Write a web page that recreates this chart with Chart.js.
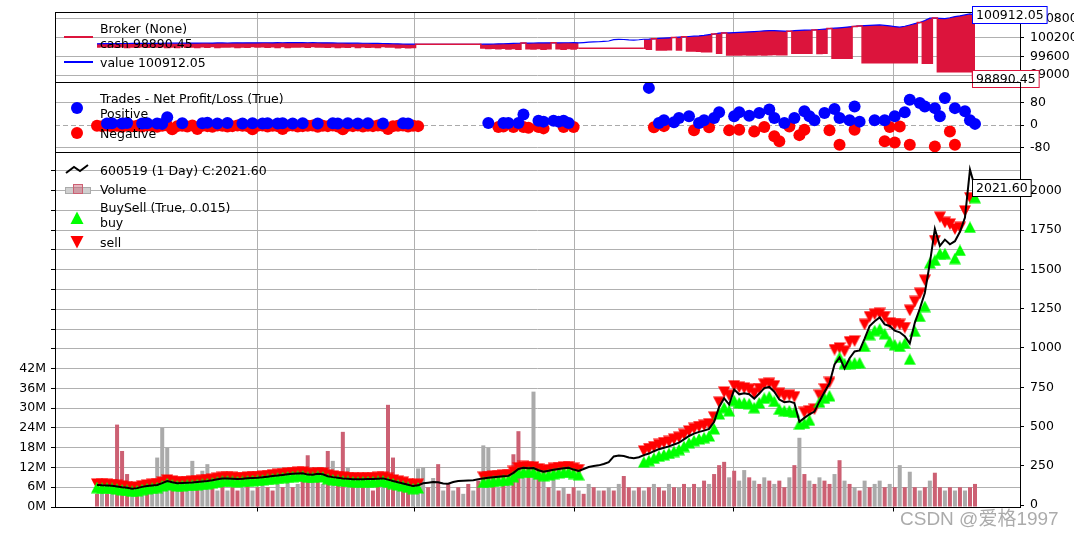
<!DOCTYPE html>
<html>
<head>
<meta charset="utf-8">
<title>600519 backtest</title>
<script src="https://cdn.jsdelivr.net/npm/chart.js@4.4.1/dist/chart.umd.min.js"></script>
<style>
  html, body { margin: 0; padding: 0; background: #fff; }
  #fig { position: relative; width: 1074px; height: 534px; overflow: hidden; }
  #fig canvas { position: absolute; left: 0; top: 0; }
  .lg { position: absolute; left: 100px; font: 12.5px/15px 'DejaVu Sans', sans-serif; color: #000; white-space: nowrap; }
  .ico { position: absolute; }
  #mark { position: absolute; left: 900px; top: 503px; font: 19px 'Liberation Sans', 'Noto Sans CJK SC', sans-serif; color: rgba(150,150,150,0.8); white-space: nowrap; }
</style>
</head>
<body>
<div id="fig">
  <canvas id="broker" width="1074" height="534"></canvas>
  <canvas id="trades" width="1074" height="534"></canvas>
  <canvas id="price" width="1074" height="534"></canvas>

  <div class="ico" style="left:64px;top:36px;width:29px;height:2px;background:#dc143c"></div>
  <div class="lg" style="top:20.5px">Broker (None)</div>
  <div class="lg" style="top:35.5px">cash 98890.45</div>
  <div class="ico" style="left:64px;top:61px;width:29px;height:2px;background:#0000ff"></div>
  <div class="lg" style="top:54.5px">value 100912.05</div>

  <div class="lg" style="top:91px">Trades - Net Profit/Loss (True)</div>
  <div class="ico" style="left:71px;top:102px;width:12px;height:12px;border-radius:50%;background:#0000ff"></div>
  <div class="lg" style="top:106px">Positive</div>
  <div class="ico" style="left:71px;top:127px;width:12px;height:12px;border-radius:50%;background:#ff0000"></div>
  <div class="lg" style="top:125.5px">Negative</div>

  <svg class="ico" style="left:64px;top:162px" width="26" height="14"><polyline points="2,11 10,5 16,9 24,3" fill="none" stroke="#000" stroke-width="2"/></svg>
  <div class="lg" style="top:162.5px">600519 (1 Day) C:2021.60</div>
  <svg class="ico" style="left:64px;top:183px" width="28" height="12"><rect x="1.5" y="4.5" width="25" height="6" fill="#d0d0d0" stroke="#aaaaaa"/><rect x="9.5" y="1.5" width="9" height="9" fill="rgba(204,96,115,0.45)" stroke="#cc6073"/></svg>
  <div class="lg" style="top:181.5px">Volume</div>
  <div class="lg" style="top:200px">BuySell (True, 0.015)</div>
  <svg class="ico" style="left:70px;top:211px" width="14" height="14"><polygon points="7,0.5 13.5,13 0.5,13" fill="#00ff00"/></svg>
  <div class="lg" style="top:215px">buy</div>
  <svg class="ico" style="left:70px;top:235px" width="14" height="14"><polygon points="0.5,1 13.5,1 7,13.5" fill="#ff0000"/></svg>
  <div class="lg" style="top:235px">sell</div>

  <div id="mark">CSDN @爱格1997</div>
</div>

<script>
// daily bars, sampled (one value per bar slot)
const close = [
  128,126,125,123,119,114,110,104,108,116,
  121,125,128,140,153,145,139,141,143,144,
  147,150,153,158,164,169,170,168,166,168,
  171,173,174,177,181,185,188,192,196,199,
  201,202,194,193,200,196,184,178,174,170,
  168,165,164,165,166,166,168,170,162,153,
  145,138,130,121,126,139,143,147,146,138,
  136,147,153,155,157,158,164,170,174,177,
  180,183,186,205,230,237,235,236,222,212,
  218,225,230,234,237,226,218,230,242,249,
  253,262,273,310,315,312,303,298,305,318,
  328,343,356,365,374,386,398,418,440,455,
  466,474,485,530,625,680,640,735,705,712,
  706,678,710,745,752,722,672,655,660,650,
  530,555,578,595,660,720,775,895,940,870,
  935,978,985,1060,1140,1170,1195,1150,1140,1110,
  1100,1075,1030,1160,1250,1350,1540,1758,1650,1690,
  1660,1680,1740,1830,2136,2021.6
];

// volume in millions, and whether the bar closed down (1 = red bar)
const volumeM = [
  4,5,4,6,25,17,10,5,4,5,
  6,5,15,24,18,8,6,5,7,14,
  6,11,13,6,5,7,5,6,5,6,
  7,5,6,8,6,5,7,6,9,6,
  7,9,15.7,8,10,7,17,14,8,22.8,
  12,7,9,6,8,5,7,9,31,15,
  8,6,5,7,11.7,12,6,8.8,13,5,
  7,5,6,4,7,5,8,18.7,18,9,
  6,8,7,16,23,9,12,35,10,8,
  6,9,5,6,4,6,5,4,7,6,
  5,5,6,5,7,9.4,6,5,6,5,
  6,7,6,5,7,6,6,7,6,7,
  6,8,7,10,12.7,13.7,9,11,8,11.2,
  9,8,7,9,8,7,8,6,9,12.7,
  21,10,8,7,9,8,7,10,14.2,8,
  7,6,5,8,6,7,8,6,7,6,
  12.7,6,10.7,6,5,6,8,10.4,6,5,
  6,5,6,5,6,7
];
const volDown = [
  1,0,1,0,1,1,1,0,1,0,
  1,0,0,0,0,1,0,1,0,0,
  1,0,0,1,0,1,0,1,1,0,
  1,0,1,0,1,1,0,1,0,1,
  0,1,1,0,1,0,1,0,1,1,
  0,1,0,1,0,1,1,0,1,1,
  0,1,1,0,0,0,1,0,1,0,
  1,0,1,0,1,0,1,0,0,1,
  0,1,0,1,1,0,1,0,1,0,
  1,0,1,0,1,1,0,1,0,1,
  0,1,0,1,0,1,1,0,1,0,
  1,0,1,1,0,1,0,1,0,1,
  0,1,0,1,1,1,0,1,0,0,
  1,0,1,0,1,0,1,1,0,1,
  0,1,0,1,0,1,1,0,1,0,
  1,0,1,0,1,0,0,1,0,1,
  0,1,0,1,0,1,0,1,1,0,
  1,0,1,0,1,1
];

// BuySell observer marks (null = no order in that slot)
const sellMark = [
  135,134,132,130,127,121,118,112,115,123,
  128,132,136,147,160,153,146,148,150,152,
  154,157,161,165,171,176,177,176,173,175,
  178,181,181,184,188,193,195,199,204,206,
  208,210,202,200,207,204,191,186,181,177,
  175,173,171,172,174,173,176,177,170,160,
  152,146,137,129,133,null,null,null,null,null,
  null,null,null,null,null,null,null,178,182,186,
  188,191,194,214,238,246,243,243,231,220,
  226,234,238,243,245,235,226,null,null,null,
  null,null,null,null,null,null,null,null,null,345,
  360,372,386,398,405,420,432,450,472,488,
  500,508,518,560,655,720,700,760,750,745,
  738,712,742,770,775,760,712,695,700,690,
  null,590,600,611,700,740,781,990,1000,980,
  1040,1045,null,1150,1200,1215,1220,1200,1160,1150,
  1150,1130,1240,1296,1348,1432,null,1684,1833,1800,
  1789,1758,1768,1873,1957,null
];
const buyMark = [
  111,108,108,106,102,97,93,88,91,99,
  104,108,111,122,136,128,122,124,126,127,
  130,133,136,141,147,152,153,151,149,151,
  154,156,157,160,164,168,171,175,179,182,
  184,185,177,176,183,179,167,161,157,153,
  151,148,147,148,149,149,151,153,145,136,
  128,121,113,104,109,null,null,null,null,null,
  null,null,null,null,null,null,null,145,149,152,
  155,158,161,180,205,212,210,210,197,187,
  193,200,205,209,212,201,193,null,null,null,
  null,null,null,null,null,null,null,null,null,273,
  283,298,311,320,329,341,353,373,395,410,
  421,429,440,485,580,620,600,665,650,650,
  645,620,650,680,690,660,610,600,600,590,
  515,520,540,null,655,680,695,null,940,900,
  900,905,905,1010,1085,1110,1120,1090,1040,1020,
  1010,1030,928,1107,1201,1264,1540,1558,1600,1600,
  null,1569,1621,null,1768,1957
];

// broker observer
const cash = [
  99895,99905,99900,99910,99890,99905,99885,99900,99890,99905,
  99890,99910,99895,99905,99885,99900,99885,99910,99890,99900,
  99885,99905,99890,99910,99885,99900,99895,99905,99885,99900,
  99890,99910,99895,99905,99890,99905,99885,99910,99885,99900,
  99895,99905,99890,99910,99895,99900,99890,99905,99885,99900,
  99890,99910,99885,99905,99890,99900,99885,99910,99895,99900,
  99875,99890,99875,99885,99986,99986,99986,99986,99986,99986,
  99986,99986,99986,99986,99986,99986,99986,99870,99850,99860,
  99840,99855,99835,99850,99830,100022,99845,99835,99850,99830,
  99845,100031,99840,99830,99850,99835,99860,99860,99860,99860,
  99860,99860,99860,99860,99860,99860,99860,99860,99860,99860,
  99827,100158,99804,99804,99810,100200,99804,100222,99772,99772,
  99760,99750,99750,100310,99700,100345,99645,99645,99645,99650,
  99645,99640,99650,99645,99650,99660,99655,99650,100400,99700,
  99700,99700,99700,100443,99690,99700,100485,99540,99540,99540,
  99540,100555,100570,99400,99400,99400,99400,99400,99400,99400,
  99400,99400,99400,99400,100676,99380,99380,100820,99112,99112,
  99112,99112,99112,99112,99112,98890.45
];
const value = [
  100000,100004,100006,100005,100008,100010,100009,100012,100014,100012,
  100015,100016,100014,100018,100020,100019,100021,100020,100022,100024,
  100022,100025,100026,100024,100027,100028,100026,100029,100030,100028,
  100030,100032,100031,100033,100034,100032,100035,100034,100036,100035,
  100037,100036,100034,100035,100033,100031,100030,100028,100026,100025,
  100023,100021,100020,100018,100017,100015,100012,100010,100006,100002,
  99998,99994,99990,99987,99986,99986,99986,99986,99986,99986,
  99986,99986,99986,99986,99986,99986,99986,99988,99990,99994,
  99998,100002,100006,100012,100018,100022,100024,100026,100027,100028,
  100030,100031,100032,100033,100034,100035,100030,100040,100052,100060,
  100065,100076,100090,100135,100141,100137,100126,100120,100129,100145,
  100146,100158,100170,100182,100190,100200,100210,100222,100232,100242,
  100251,100268,100290,100310,100337,100345,100350,100357,100365,100372,
  100380,100390,100400,100412,100421,100418,100410,100405,100400,100420,
  100430,100436,100440,100443,100455,100470,100485,100497,100510,100525,
  100540,100555,100570,100580,100590,100598,100602,100585,100570,100550,
  100529,100560,100600,100640,100676,100740,100816,100820,100810,100800,
  100830,100867,100890,100921,100950,100912.05
];
// the long hold with no orders (cash line only, no fill)
const holdSpan = [96, 109];

// closed trades: bar slot and net pnl
const winBar = [2,3,5,6,9,10,12,13,14,17,21,22,24,26,29,31,33,34,36,37,39,41,44,47,48,50,52,54,57,61,62,
  78,81,82,84,85,88,89,91,92,93,94,
  110,112,113,115,116,118,120,121,123,124,127,128,130,132,134,135,137,139,141,142,143,145,147,148,150,151,152,155,157,159,161,162,164,165,167,168,169,171,173,174,175];
const winPnl = [5,6,5,7,5,6,5,4,28,6,6,8,5,7,5,6,5,6,5,6,5,6,5,6,5,6,5,6,5,6,5,
  7,7,7,7,37,15,12,15,12,15,7,
  132,7,17,10,25,31,7,17,25,45,31,45,33,43,55,25,7,25,49,31,17,43,57,25,17,66,12,17,17,31,45,90,78,66,60,31,96,60,49,17,4];
const lossBar = [0,1,2,3,4,5,6,7,8,9,10,11,12,13,14,15,16,17,18,19,20,21,22,23,24,25,26,27,28,29,30,31,32,
  33,34,35,36,37,38,39,40,41,42,43,44,45,46,47,48,49,50,51,52,53,54,55,56,57,58,59,60,61,62,63,64,
  80,81,83,85,86,88,89,93,95,
  111,113,119,122,126,128,131,133,135,136,138,140,141,146,148,151,157,158,159,160,162,167,170,171];
const lossPnl = [-3,-4,-2,-5,-3,-6,-2,-4,-3,-5,-2,-4,-6,-3,-2,-15,-4,-3,-5,-2,-14,-3,-4,-6,-2,-3,-5,-4,-2,-3,-4,-15,-3,
  -2,-5,-3,-4,-14,-3,-2,-5,-4,-3,-2,-6,-3,-4,-2,-5,-15,-3,-4,-2,-5,-3,-4,-2,-3,-14,-4,-3,-2,-5,-3,-4,
  -7,-5,-7,-7,-10,-7,-12,-7,-7,
  -8,-4,-19,-8,-19,-17,-23,-7,-40,-58,-5,-36,-17,-19,-70,-17,-58,-7,-62,-5,-70,-76,-23,-70];

// axis ticks
const xTicks = [31.95, 63.24, 95.14, 126.87, 158.76];
const brokerTicks = [99000, 99600, 100200, 100800];
const pnlTicks = [-80, 0, 80];
const priceTicks = [0, 250, 500, 750, 1000, 1250, 1500, 1750, 2000];
const volTicks = [0,6,12,18,24,30,36,42,48,54,60,66,72,78,84,90,96,102];
const volLabelMax = 42;

const GRID = '#b0b0b0';
const CRIMSON = '#dc143c';
const BLUE = '#0000ff';
const RED = '#ff0000';
const LIME = '#00ff00';
const VOL_UP = '#aaaaaa';
const VOL_DOWN = '#cc6073';
const xMin = -8.37, xMax = 183.97;

Chart.defaults.font.family = "'DejaVu Sans', sans-serif";
Chart.defaults.font.size = 12.5;
Chart.defaults.color = '#000';

const xy = arr => arr.map((v, i) => ({x: i, y: v})).filter(p => p.y !== null);
const pairs = (bars, vals) => bars.map((b, k) => ({x: b, y: vals[k]}));

function triangle(color, down) {
  const c = document.createElement('canvas');
  c.width = 12; c.height = 12;
  const g = c.getContext('2d');
  g.fillStyle = color;
  g.beginPath();
  if (down) { g.moveTo(0, 0.5); g.lineTo(12, 0.5); g.lineTo(6, 12); }
  else { g.moveTo(6, 0); g.lineTo(12, 11.5); g.lineTo(0, 11.5); }
  g.closePath();
  g.fill();
  return c;
}

const framePlugin = {
  id: 'frame',
  afterDraw(chart) {
    const {ctx, chartArea: a} = chart;
    ctx.save();
    ctx.strokeStyle = '#000';
    ctx.lineWidth = 1;
    ctx.strokeRect(Math.round(a.left) + 0.5, Math.round(a.top) + 0.5, Math.round(a.right - a.left), Math.round(a.bottom - a.top));
    ctx.restore();
  }
};

const tagPlugin = {
  id: 'lastTag',
  afterDraw(chart, args, opts) {
    const {ctx} = chart;
    (opts.items || []).forEach(it => {
      const meta = chart.getDatasetMeta(it.dataset);
      const pt = meta.data[meta.data.length - 1];
      const data = chart.data.datasets[it.dataset].data;
      const txt = data[data.length - 1].y.toFixed(2);
      ctx.save();
      ctx.font = "12.5px 'DejaVu Sans'";
      const w = ctx.measureText(txt).width;
      const x = Math.round(pt.x) - 2.5, y = Math.round(pt.y) - 8.5;
      ctx.fillStyle = '#fff';
      ctx.fillRect(x, y, w + 7, 17);
      ctx.strokeStyle = it.color;
      ctx.lineWidth = 1;
      ctx.strokeRect(x, y, w + 7, 17);
      ctx.fillStyle = '#000';
      ctx.textBaseline = 'middle';
      ctx.fillText(txt, x + 3.5, y + 9);
      ctx.restore();
    });
  }
};

Chart.register(framePlugin, tagPlugin);

function xAxis(showTicks) {
  return {
    type: 'linear', min: xMin, max: xMax, offset: false,
    afterBuildTicks: s => { s.ticks = xTicks.map(v => ({value: v})); },
    afterFit: s => { s.height = showTicks ? 27 : 0; s.paddingLeft = 0; s.paddingRight = 0; },
    ticks: { display: false },
    grid: { color: GRID, offset: false, drawTicks: showTicks, tickLength: 4.5, tickColor: '#000' },
    border: { display: false }
  };
}

function yAxis(position, min, max, ticks, fmt, width, gridColor) {
  return {
    type: 'linear', position, min, max,
    afterBuildTicks: s => { s.ticks = ticks.map(v => ({value: v})); },
    afterFit: s => { s.width = width; s.paddingTop = 0; s.paddingBottom = 0; },
    ticks: { padding: position === 'right' ? 6 : 5, callback: fmt },
    grid: { color: gridColor, tickColor: '#000', tickLength: 4 },
    border: { display: false }
  };
}

function panelOptions(padding, scales, tags) {
  return {
    responsive: false, animation: false, devicePixelRatio: 1, events: [],
    layout: { padding },
    scales,
    plugins: {
      legend: { display: false },
      tooltip: { enabled: false },
      filler: { drawTime: 'beforeDatasetsDraw' },
      lastTag: { items: tags }
    }
  };
}

// Broker panel
new Chart(document.getElementById('broker'), {
  type: 'line',
  data: {
    datasets: [
      {
        label: 'cash', data: xy(cash), borderColor: CRIMSON, backgroundColor: CRIMSON,
        borderWidth: 1.5, stepped: 'middle', fill: 1, pointRadius: 0, order: 0,
        segment: {
          backgroundColor: c => (c.p0DataIndex >= holdSpan[0] && c.p1DataIndex <= holdSpan[1]) ? 'rgba(0,0,0,0)' : undefined
        }
      },
      { label: 'value', data: xy(value), borderColor: BLUE, borderWidth: 1.2, pointRadius: 0, fill: false, order: 1 }
    ]
  },
  options: panelOptions(
    {top: 12, bottom: 452, left: 55, right: 0},
    { x: xAxis(false), y: yAxis('right', 98783, 101013, brokerTicks, v => String(v), 54, GRID) },
    [{dataset: 0, color: CRIMSON}, {dataset: 1, color: BLUE}]
  )
});

// Trades panel
const zeroLine = {
  id: 'zeroLine',
  beforeDatasetsDraw(chart) {
    const {ctx, chartArea: a} = chart;
    const y = Math.round(chart.scales.y.getPixelForValue(0)) + 0.5;
    ctx.save();
    ctx.strokeStyle = '#aaaaaa';
    ctx.lineWidth = 1;
    ctx.setLineDash([5, 3]);
    ctx.beginPath();
    ctx.moveTo(a.left, y);
    ctx.lineTo(a.right, y);
    ctx.stroke();
    ctx.restore();
  }
};
const pnlAxis = yAxis('right', -96, 152.9, pnlTicks, v => String(v), 54, GRID);
pnlAxis.grid.color = c => (c.tick && c.tick.value === 0) ? 'rgba(0,0,0,0)' : GRID;
new Chart(document.getElementById('trades'), {
  type: 'scatter',
  data: {
    datasets: [
      { label: 'Positive', data: pairs(winBar, winPnl), backgroundColor: BLUE, borderWidth: 0, pointRadius: 6, order: 0 },
      { label: 'Negative', data: pairs(lossBar, lossPnl), backgroundColor: RED, borderWidth: 0, pointRadius: 6, order: 1 }
    ]
  },
  options: panelOptions(
    {top: 82, bottom: 382, left: 55, right: 0},
    { x: xAxis(false), y: pnlAxis },
    []
  ),
  plugins: [zeroLine]
});

// Price / volume / buysell panel
const volColors = volDown.map(d => d ? VOL_DOWN : VOL_UP);
const priceAxis = yAxis('right', -12.1, 2247.6, priceTicks, v => String(v), 54, GRID);
priceAxis.grid.drawOnChartArea = false;
new Chart(document.getElementById('price'), {
  type: 'line',
  data: {
    datasets: [
      { type: 'line', label: '600519', data: xy(close), yAxisID: 'y', borderColor: '#000', borderWidth: 2, pointRadius: 0, order: 0 },
      { type: 'line', label: 'buy', data: xy(buyMark), yAxisID: 'y', showLine: false, pointStyle: triangle(LIME, false), pointRadius: 6, order: 1 },
      { type: 'line', label: 'sell', data: xy(sellMark), yAxisID: 'y', showLine: false, pointStyle: triangle(RED, true), pointRadius: 6, order: 2 },
      { type: 'bar', label: 'Volume', data: xy(volumeM), yAxisID: 'yVol', backgroundColor: volColors, borderWidth: 0,
        barPercentage: 0.8, categoryPercentage: 1, order: 3 }
    ]
  },
  options: panelOptions(
    {top: 152, bottom: 0, left: 0, right: 0},
    {
      x: xAxis(true),
      yVol: yAxis('left', 0, 107.7, volTicks, v => (v <= volLabelMax ? v + 'M' : ''), 55, GRID),
      y: priceAxis
    },
    [{dataset: 0, color: '#000'}]
  )
});
</script>
</body>
</html>
